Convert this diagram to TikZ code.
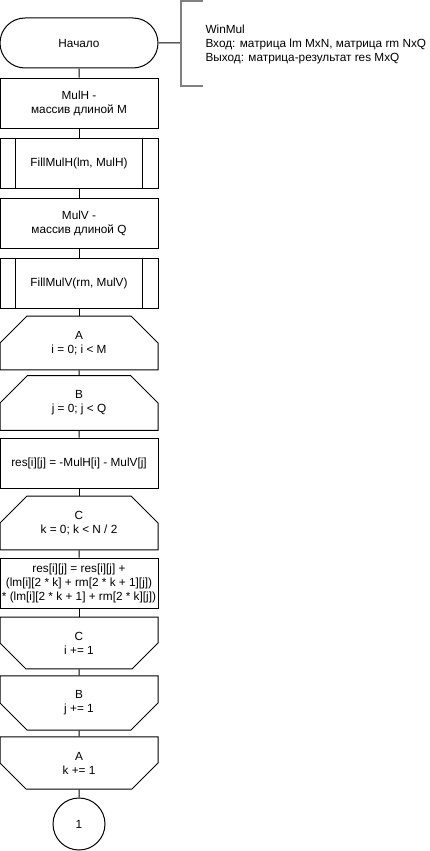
\documentclass[tikz,border=0pt]{standalone}
\usepackage{fontspec}
\setmainfont{Liberation Sans}
\usetikzlibrary{shapes.misc}

\begin{document}
\begin{tikzpicture}[x=1pt,y=-1pt,
		font=\fontsize{11.8}{14}\selectfont,
		line width=1pt,
		block/.style={draw, rectangle, minimum width=158pt, minimum height=50pt, inner sep=0pt, align=center},
		term/.style={block, rounded rectangle},
		loopbeg/.style={block, chamfered rectangle, chamfered rectangle corners={north west,north east}, chamfered rectangle xsep=20pt, chamfered rectangle ysep=15pt},
		loopend/.style={block, chamfered rectangle, chamfered rectangle corners={south west,south east}, chamfered rectangle xsep=20pt, chamfered rectangle ysep=15pt},
		conn/.style={draw, circle, minimum size=52pt, inner sep=0pt}]
		\useasboundingbox (0,0) rectangle (429,851);
		% start and comment
		\node[term] (start) at (79,43) {Начало};
		\coordinate (brk) at (181,43);
		\draw (start) -- (brk);
		\draw[gray, line width=2pt] (203,1) -- (181,1) -- (181,86) -- (203,86);
		\node[anchor=west, align=left, inner sep=2pt] (info) at (203,44) {WinMul\\Вход: матрица lm MxN, матрица rm NxQ\\Выход: матрица-результат res MxQ};
		% arrays
		\node[block] (mulh) at (79,103) {MulH -\\массив длиной M};
		\node[block] (fillh) at (79,163) {FillMulH(lm, MulH)};
		\draw ([xshift=16pt]fillh.north west) -- ([xshift=16pt]fillh.south west);
		\draw ([xshift=-16pt]fillh.north east) -- ([xshift=-16pt]fillh.south east);
		\node[block] (mulv) at (79,223) {MulV -\\массив длиной Q};
		\node[block] (fillv) at (79,283) {FillMulV(rm, MulV)};
		\draw ([xshift=16pt]fillv.north west) -- ([xshift=16pt]fillv.south west);
		\draw ([xshift=-16pt]fillv.north east) -- ([xshift=-16pt]fillv.south east);
		% loops
		\node[loopbeg] (abeg) at (79,343) {A\\i = 0; i < M};
		\node[loopbeg] (bbeg) at (79,403) {B\\j = 0; j < Q};
		\node[block] (init) at (79,463) {res[i][j] = -MulH[i] - MulV[j]};
		\node[loopbeg] (cbeg) at (79,523) {C\\k = 0; k < N / 2};
		\node[block] (body) at (79,583) {res[i][j] = res[i][j] +\\(lm[i][2 * k] + rm[2 * k + 1][j])\\* (lm[i][2 * k + 1] + rm[2 * k][j])};
		\node[loopend] (cend) at (79,643) {C\\i += 1};
		\node[loopend] (bend) at (79,703) {B\\j += 1};
		\node[loopend] (aend) at (79,763) {A\\k += 1};
		\node[conn] (c1) at (79,824) {1};
		% connectors
		\foreach \a/\b in {start/mulh, mulh/fillh, fillh/mulv, mulv/fillv, fillv/abeg, abeg/bbeg, bbeg/init, init/cbeg, cbeg/body, body/cend, cend/bend, bend/aend, aend/c1}
			\draw (\a) -- (\b);
	\end{tikzpicture}
\end{document}
